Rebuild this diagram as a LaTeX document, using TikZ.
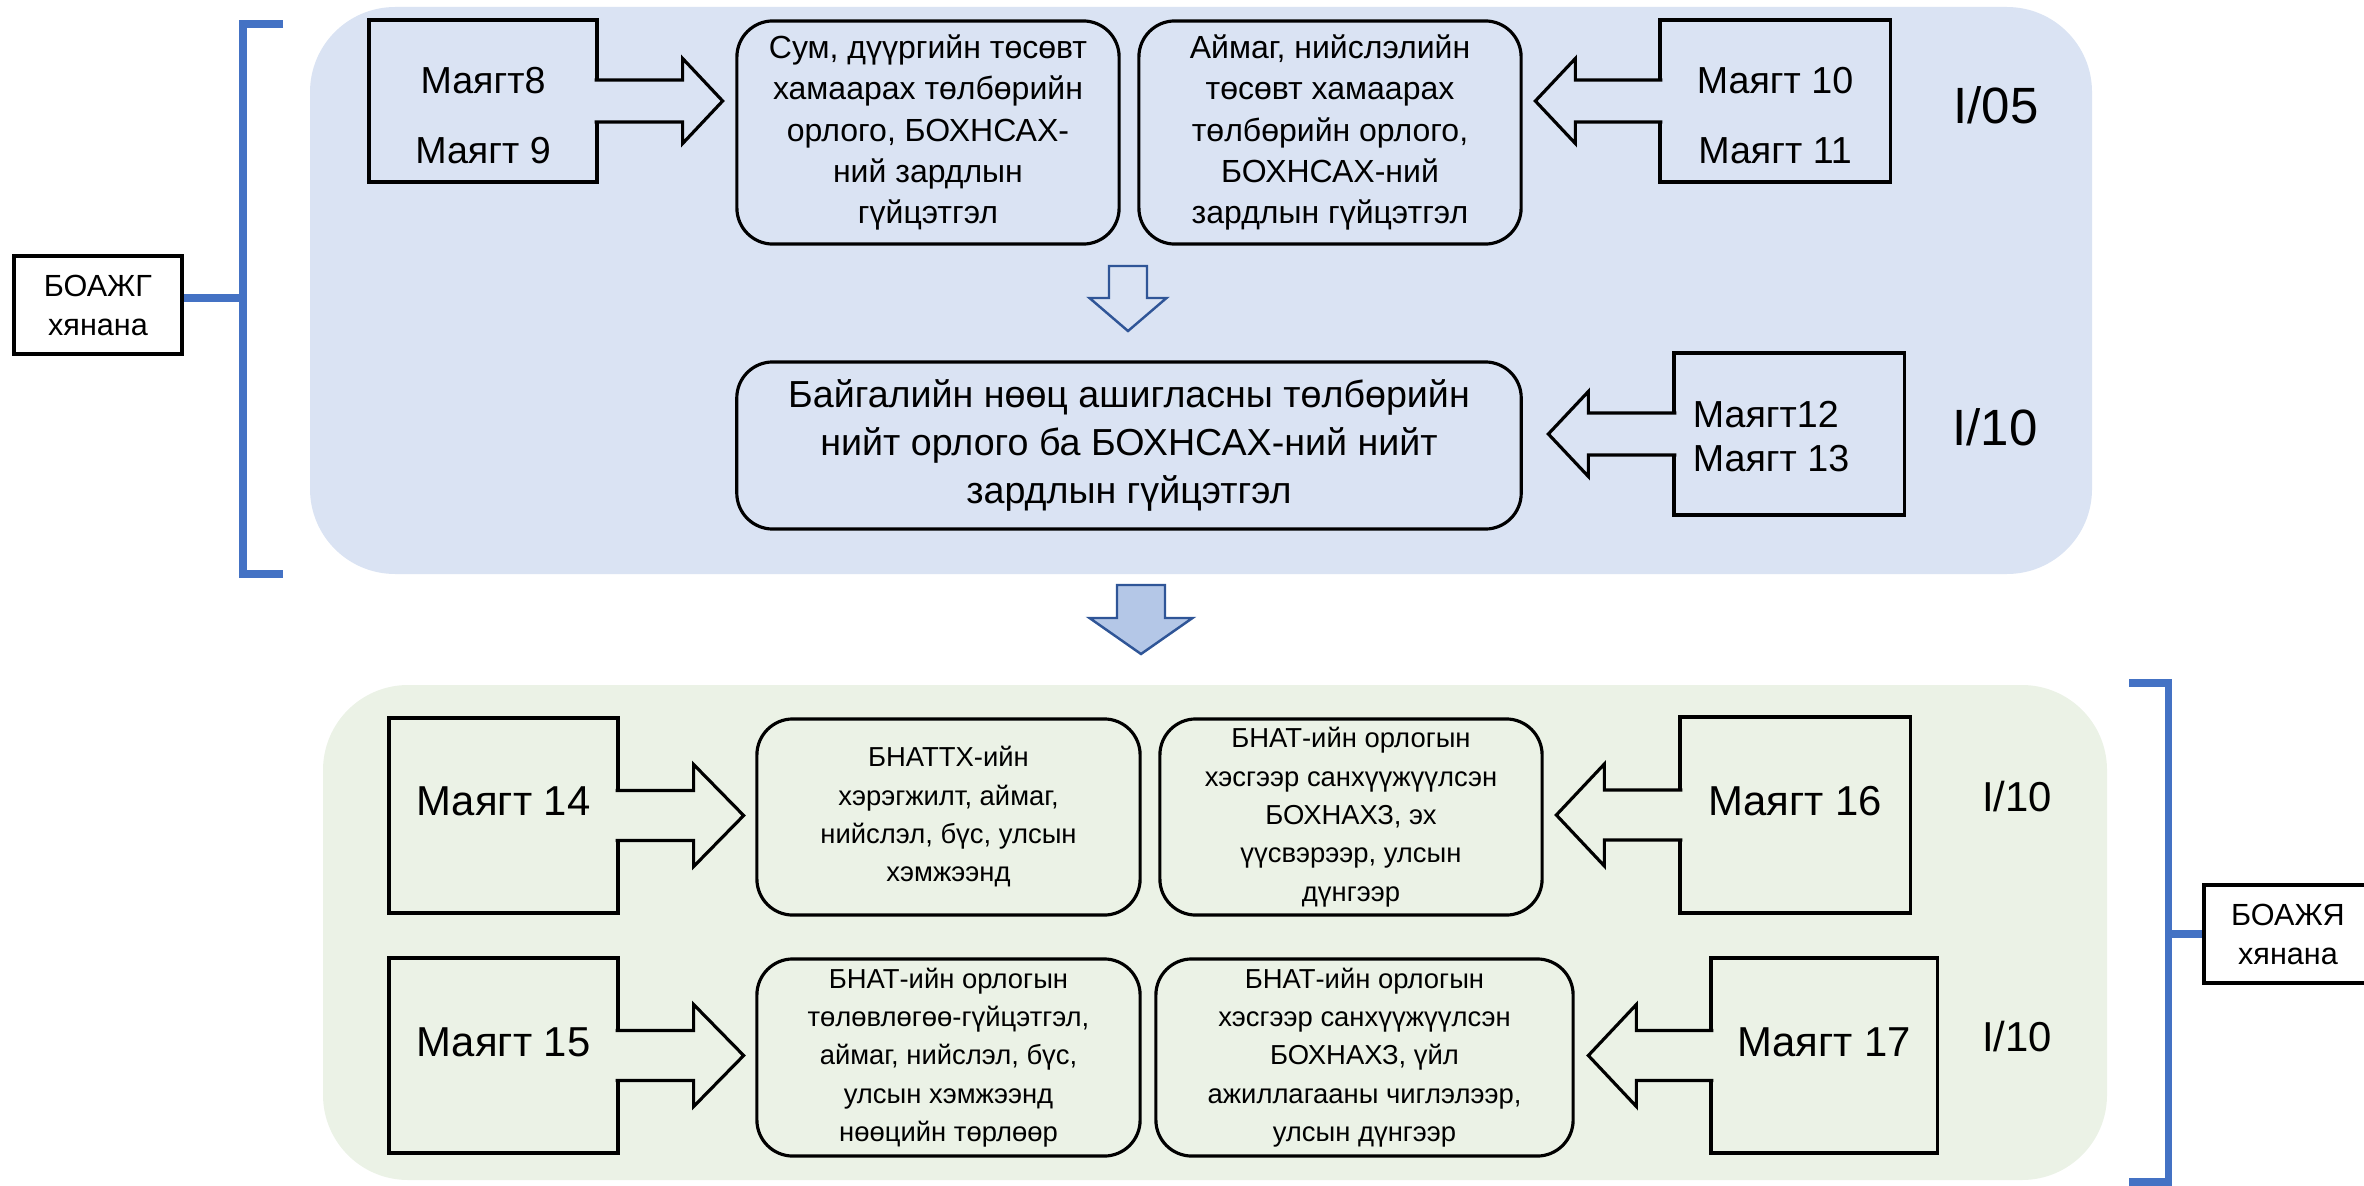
\documentclass[tikz,border=0pt]{standalone}
\usepackage{fontspec}
\setmainfont{Liberation Sans}
\usepackage{tikz}
\usetikzlibrary{calc}
\definecolor{panelblue}{HTML}{DAE3F3}
\definecolor{panelgreen}{HTML}{EBF2E6}
\definecolor{bracketblue}{HTML}{4472C4}
\definecolor{arrowblue}{HTML}{2F5597}
\definecolor{arrowfill}{HTML}{B4C7E7}
\tikzset{
    formbox/.style={draw, line width=0.9pt, inner sep=0pt},
    formtext/.style={align=center, inner sep=0pt},
    resbox/.style={draw, line width=0.9pt, rounded corners=0.36cm, align=center, inner sep=0pt},
    checkbox/.style={draw, line width=1pt, align=center, inner sep=0pt, minimum width=1.68cm, minimum height=0.98cm, font=\fontsize{8.7}{11.1}\selectfont},
    bracket/.style={bracketblue, line width=2pt},
    callarrow/.style={line width=0.9pt, fill=#1},
    blockarrow/.style={draw=arrowblue, line width=0.7pt, fill=#1},
}

\begin{document}
\begin{tikzpicture}[x=0.01cm, y=-0.01cm]
    \useasboundingbox (0,0) rectangle (2364,1185);
    \coordinate (LT) at (243,298);
    \coordinate (RT) at (2168,934);
    \coordinate (A1) at (1128,266);
    \coordinate (A2) at (1141,585);

    % Panels
    \fill[panelblue, rounded corners=0.85cm] (310,7) rectangle (2092,574);
    \fill[panelgreen, rounded corners=0.85cm] (323,685) rectangle (2107,1180);

    % Check boxes and brackets
    \node[checkbox] (boag) at (98,305) {БОАЖГ\\хянана};
    \node[checkbox] (boaj) at (2288,934) {БОАЖЯ\\хянана};
    \draw[bracket] (283,24) -- (243,24) -- (243,574) -- (283,574);
    \draw[bracket] (LT) -- (LT -| boag.east);
    \draw[bracket] (2129,683) -- (2168,683) -- (2168,1182) -- (2129,1182);
    \draw[bracket] (RT) -- (RT -| boaj.west);

    % Upper level
    \node[formbox, minimum width=2.28cm, minimum height=1.62cm] (f8) at (483,101) {};
    \node[formtext, font=\fontsize{10.7}{19.9}\selectfont] (f8t) at (483,116) {Маягт8\\Маягт 9};
    \node[resbox, minimum width=3.82cm, minimum height=2.23cm, font=\fontsize{9.1}{11.7}\selectfont] (sum) at (928,132.5)
        {Сум, дүүргийн төсөвт\\хамаарах төлбөрийн\\орлого, БОХНСАХ-\\ний зардлын\\гүйцэтгэл};
    \node[resbox, minimum width=3.82cm, minimum height=2.23cm, font=\fontsize{9.1}{11.7}\selectfont] (aimag) at (1330,132.5)
        {Аймаг, нийслэлийн\\төсөвт хамаарах\\төлбөрийн орлого,\\БОХНСАХ-ний\\зардлын гүйцэтгэл};
    \node[formbox, minimum width=2.30cm, minimum height=1.62cm] (f10) at (1775,101) {};
    \node[formtext, font=\fontsize{10.7}{19.9}\selectfont] (f10t) at (1775,116) {Маягт 10\\Маягт 11};
    \node[font=\fontsize{14.5}{17}\selectfont] (i05) at (1996,105) {I/05};

    \node[resbox, minimum width=7.84cm, minimum height=1.67cm, font=\fontsize{10.7}{13.7}\selectfont] (total) at (1129,445.5)
        {Байгалийн нөөц ашигласны төлбөрийн\\нийт орлого ба БОХНСАХ-ний нийт\\зардлын гүйцэтгэл};
    \node[formbox, minimum width=2.30cm, minimum height=1.62cm] (f12) at (1789,434) {};
    \node[formtext, align=left, font=\fontsize{10.7}{12.5}\selectfont] (f12t) at (1771,437) {Маягт12\\Маягт 13};
    \node[font=\fontsize{14.5}{17}\selectfont] (i10a) at (1995,427) {I/10};

    % Callout arrows, upper level
    \filldraw[callarrow=panelblue] ($(f8.east)+(-4,-21)$) -- ++(88,0) -- ++(0,-21.5) -- ++(40,42.5) -- ++(-40,42.5) -- ++(0,-21.5) -- ++(-88,0);
    \filldraw[callarrow=panelblue] ($(f10.west)+(4,-21)$) -- ++(-87,0) -- ++(0,-21.5) -- ++(-40,42.5) -- ++(40,42.5) -- ++(0,-21.5) -- ++(87,0);
    \filldraw[callarrow=panelblue] ($(f12.west)+(4,-21)$) -- ++(-88,0) -- ++(0,-21.5) -- ++(-40,42.5) -- ++(40,42.5) -- ++(0,-21.5) -- ++(88,0);

    % Arrow down #1
    \begin{scope}[shift={(A1)}]
        \filldraw[blockarrow=panelblue] (-19,0) -- (19,0) -- (19,32) -- (38.5,32) -- (0,65) -- (-38.5,32) -- (-19,32) -- cycle;
    \end{scope}

    % Arrow down #2
    \begin{scope}[shift={(A2)}]
        \filldraw[blockarrow=arrowfill] (-24,0) -- (24,0) -- (24,33) -- (51.5,33) -- (0,69) -- (-51.5,33) -- (-24,33) -- cycle;
    \end{scope}

    % Lower level
    \node[formbox, minimum width=2.29cm, minimum height=1.95cm] (f14) at (503.5,815.5) {};
    \node[formtext, font=\fontsize{11.9}{14}\selectfont] (f14t) at (503.5,801) {Маягт 14};
    \node[resbox, minimum width=3.83cm, minimum height=1.96cm, font=\fontsize{7.8}{10.9}\selectfont] (b14) at (948.5,817)
        {БНАТТХ-ийн\\хэрэгжилт, аймаг,\\нийслэл, бүс, улсын\\хэмжээнд};
    \node[resbox, minimum width=3.82cm, minimum height=1.96cm, font=\fontsize{7.8}{10.9}\selectfont] (b16) at (1351,817)
        {БНАТ-ийн орлогын\\хэсгээр санхүүжүүлсэн\\БОХНАХЗ, эх\\үүсвэрээр, улсын\\дүнгээр};
    \node[formbox, minimum width=2.30cm, minimum height=1.96cm] (f16) at (1795,815) {};
    \node[formtext, font=\fontsize{11.9}{14}\selectfont] (f16t) at (1795,801) {Маягт 16};
    \node[font=\fontsize{11.9}{14}\selectfont] (i10b) at (2017,797) {I/10};

    \node[formbox, minimum width=2.29cm, minimum height=1.95cm] (f15) at (503.5,1055.5) {};
    \node[formtext, font=\fontsize{11.9}{14}\selectfont] (f15t) at (503.5,1042) {Маягт 15};
    \node[resbox, minimum width=3.83cm, minimum height=1.97cm, font=\fontsize{7.8}{10.9}\selectfont] (b15) at (948.5,1057.5)
        {БНАТ-ийн орлогын\\төлөвлөгөө-гүйцэтгэл,\\аймаг, нийслэл, бүс,\\улсын хэмжээнд\\нөөцийн төрлөөр};
    \node[resbox, minimum width=4.17cm, minimum height=1.97cm, font=\fontsize{7.8}{10.9}\selectfont] (b17) at (1364.5,1057.5)
        {БНАТ-ийн орлогын\\хэсгээр санхүүжүүлсэн\\БОХНАХЗ, үйл\\ажиллагааны чиглэлээр,\\улсын дүнгээр};
    \node[formbox, minimum width=2.26cm, minimum height=1.95cm] (f17) at (1824,1055.5) {};
    \node[formtext, font=\fontsize{11.9}{14}\selectfont] (f17t) at (1824,1042) {Маягт 17};
    \node[font=\fontsize{11.9}{14}\selectfont] (i10c) at (2017,1037) {I/10};

    % Callout arrows, lower level
    \filldraw[callarrow=panelgreen] ($(f14.east)+(-4,-25)$) -- ++(78,0) -- ++(0,-26) -- ++(50,51) -- ++(-50,51) -- ++(0,-26) -- ++(-78,0);
    \filldraw[callarrow=panelgreen] ($(f15.east)+(-4,-25)$) -- ++(78,0) -- ++(0,-26) -- ++(50,51) -- ++(-50,51) -- ++(0,-26) -- ++(-78,0);
    \filldraw[callarrow=panelgreen] ($(f16.west)+(4,-25)$) -- ++(-78,0) -- ++(0,-26) -- ++(-48,51) -- ++(48,51) -- ++(0,-26) -- ++(78,0);
    \filldraw[callarrow=panelgreen] ($(f17.west)+(4,-25)$) -- ++(-77,0) -- ++(0,-26) -- ++(-48,51) -- ++(48,51) -- ++(0,-26) -- ++(77,0);
\end{tikzpicture}
\end{document}
